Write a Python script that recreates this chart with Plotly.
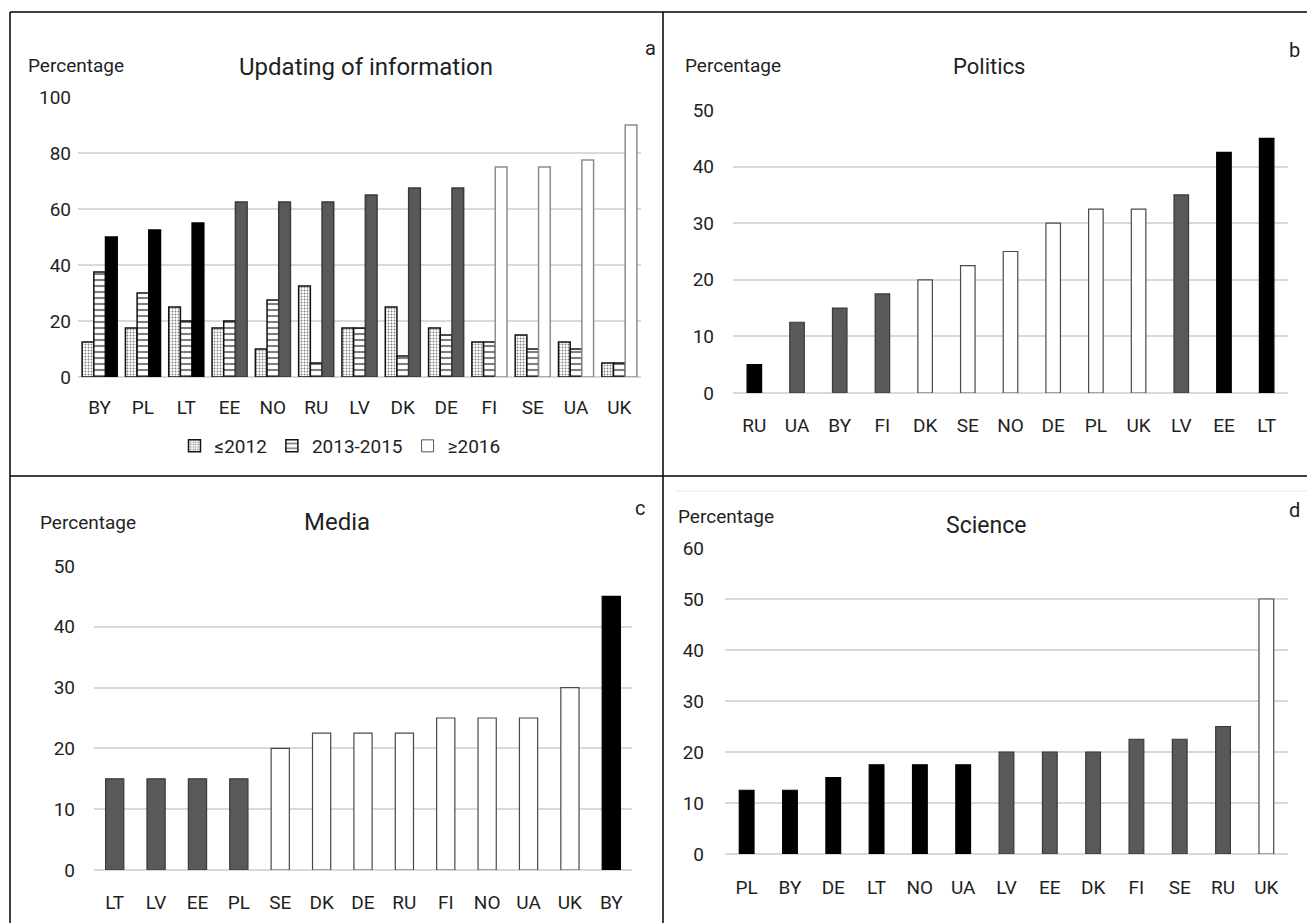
import plotly.graph_objects as go

# ---------------- data ----------------
upd_countries = ["BY", "PL", "LT", "EE", "NO", "RU", "LV", "DK", "DE", "FI", "SE", "UA", "UK"]
upd_le2012 = [12.5, 17.5, 25, 17.5, 10, 32.5, 17.5, 25, 17.5, 12.5, 15, 12.5, 5]
upd_2013_2015 = [37.5, 30, 20, 20, 27.5, 5, 17.5, 7.5, 15, 12.5, 10, 10, 5]
upd_ge2016 = [50, 52.5, 55, 62.5, 62.5, 62.5, 65, 67.5, 67.5, 75, 75, 77.5, 90]
upd_cluster = [1, 1, 1, 2, 2, 2, 2, 2, 2, 3, 3, 3, 3]

pol_countries = ["RU", "UA", "BY", "FI", "DK", "SE", "NO", "DE", "PL", "UK", "LV", "EE", "LT"]
pol_values = [5, 12.5, 15, 17.5, 20, 22.5, 25, 30, 32.5, 32.5, 35, 42.5, 45]
pol_cluster = [1, 2, 2, 2, 3, 3, 3, 3, 3, 3, 2, 1, 1]

med_countries = ["LT", "LV", "EE", "PL", "SE", "DK", "DE", "RU", "FI", "NO", "UA", "UK", "BY"]
med_values = [15, 15, 15, 15, 20, 22.5, 22.5, 22.5, 25, 25, 25, 30, 45]
med_cluster = [2, 2, 2, 2, 3, 3, 3, 3, 3, 3, 3, 3, 1]

sci_countries = ["PL", "BY", "DE", "LT", "NO", "UA", "LV", "EE", "DK", "FI", "SE", "RU", "UK"]
sci_values = [12.5, 12.5, 15, 17.5, 17.5, 17.5, 20, 20, 20, 22.5, 22.5, 25, 50]
sci_cluster = [1, 1, 1, 1, 1, 1, 2, 2, 2, 2, 2, 2, 3]

legend_names = ["≤2012", "2013-2015", "≥2016"]
y_label = "Percentage"
panel_titles = ["Updating of information", "Politics", "Media", "Science"]
panel_letters = ["a", "b", "c", "d"]

# ---------------- style ----------------
W, H = 1307, 923
FONT = "Roboto, 'Liberation Sans', sans-serif"
TXT = "#1f1f1f"
GRID = "#d9d9d9"
FILL = {1: "#000000", 2: "#595959", 3: "#ffffff"}
EDGE = {1: "#000000", 2: "#3a3a3a", 3: "#4a4a4a"}
TICK_SIZE = 19


def px(x):
    return x / W


def py(y):
    return 1 - y / H


fig = go.Figure()

# Panel a: grouped bars
fig.add_trace(go.Bar(
    x=upd_countries, y=upd_le2012, name=legend_names[0], xaxis="x", yaxis="y",
    width=0.27, offset=-0.405,
    marker=dict(color="#ffffff", line=dict(color="#111111", width=1.5),
                pattern=dict(shape=".", fgcolor="#000000", bgcolor="#ffffff", size=3, solidity=0.3)),
))
fig.add_trace(go.Bar(
    x=upd_countries, y=upd_2013_2015, name=legend_names[1], xaxis="x", yaxis="y",
    width=0.27, offset=-0.135,
    marker=dict(color="#ffffff", line=dict(color="#111111", width=1.5),
                pattern=dict(shape="-", fgcolor="#000000", bgcolor="#ffffff", size=6, solidity=0.35)),
))
fig.add_trace(go.Bar(
    x=upd_countries, y=upd_ge2016, name=legend_names[2], xaxis="x", yaxis="y",
    width=0.27, offset=0.135, showlegend=False,
    marker=dict(color=[FILL[c] for c in upd_cluster],
                line=dict(color=["#000000" if c == 1 else ("#3a3a3a" if c == 2 else "#8c8c8c") for c in upd_cluster], width=1.5)),
))
# legend entry for >=2016 (white box) on a hidden axis
fig.add_trace(go.Bar(
    x=[upd_countries[0]], y=[None], name=legend_names[2], xaxis="x5", yaxis="y5",
    marker=dict(color="#ffffff", line=dict(color="#555555", width=1)),
))

for vals, cats, clus, xa, ya, w in [
    (pol_values, pol_countries, pol_cluster, "x2", "y2", 0.34),
    (med_values, med_countries, med_cluster, "x3", "y3", 0.44),
    (sci_values, sci_countries, sci_cluster, "x4", "y4", 0.34),
]:
    fig.add_trace(go.Bar(
        x=cats, y=vals, xaxis=xa, yaxis=ya, showlegend=False,
        width=w, offset=-w / 2,
        marker=dict(color=[FILL[c] for c in clus],
                    line=dict(color=[EDGE[c] for c in clus], width=1.2)),
    ))

# axes geometry (pixel coordinates of plot areas)
areas = {
    "": dict(x0=78, x1=641, y0=377, y1=97, ymax=100, dtick=20, ystand=6, xstand=17),
    "2": dict(x0=733, x1=1288, y0=393, y1=110, ymax=50, dtick=10, ystand=18, xstand=19),
    "3": dict(x0=94, x1=632, y0=870, y1=566, ymax=50, dtick=10, ystand=18, xstand=19),
    "4": dict(x0=725, x1=1288, y0=854, y1=548, ymax=60, dtick=10, ystand=20, xstand=20),
}
layout_axes = {}
for k, a in areas.items():
    layout_axes["xaxis" + k] = dict(
        domain=[px(a["x0"]), px(a["x1"])], anchor="y" + k, type="category",
        showgrid=False, showline=False, zeroline=False, ticks="", automargin=False,
        tickfont=dict(family=FONT, size=TICK_SIZE, color=TXT), ticklabelstandoff=a["xstand"], fixedrange=True,
    )
    layout_axes["yaxis" + k] = dict(
        domain=[py(a["y0"]), py(a["y1"])], anchor="x" + k, automargin=False,
        range=[0, a["ymax"]], dtick=a["dtick"], tick0=0,
        showgrid=True, gridcolor=GRID, gridwidth=2,
        zeroline=True, zerolinecolor=GRID, zerolinewidth=2,
        showline=False, ticks="", ticklabelstandoff=a["ystand"],
        tickfont=dict(family=FONT, size=TICK_SIZE, color=TXT), fixedrange=True,
    )
layout_axes["xaxis5"] = dict(domain=[0, 0.001], anchor="y5", visible=False, automargin=False)
layout_axes["yaxis5"] = dict(domain=[0, 0.001], anchor="x5", visible=False, automargin=False)

annotations = []
ann_pos = [
    # (percentage_left_x, percentage_y, title_x, title_y, title_size, letter_x, letter_y)
    (26, 65, 366, 67, 24, 650, 48),
    (683, 65, 989, 66, 22, 1294, 50),
    (38, 522, 337, 522, 24, 640, 508),
    (676, 516, 986, 525, 23, 1294, 510),
]
for i, (plx, ply, tx, ty, ts, lx, ly) in enumerate(ann_pos):
    annotations.append(dict(x=px(plx), y=py(ply), xref="paper", yref="paper", text=y_label,
                            showarrow=False, xanchor="left", yanchor="middle",
                            font=dict(family=FONT, size=19, color=TXT)))
    annotations.append(dict(x=px(tx), y=py(ty), xref="paper", yref="paper", text=panel_titles[i],
                            showarrow=False, xanchor="center", yanchor="middle",
                            font=dict(family=FONT, size=ts, color=TXT)))
    annotations.append(dict(x=px(lx), y=py(ly), xref="paper", yref="paper", text=panel_letters[i],
                            showarrow=False, xanchor="center", yanchor="middle",
                            font=dict(family=FONT, size=20, color=TXT)))

shapes = []
line_style = dict(color="#000000", width=1.5)
for (x0, y0, x1, y1) in [(10, 12, 10, H), (10, 12, W, 12), (663, 12, 663, H), (10, 476, W, 476)]:
    shapes.append(dict(type="line", xref="paper", yref="paper",
                       x0=px(x0), y0=py(y0), x1=px(x1), y1=py(y1), line=line_style))
shapes.append(dict(type="line", xref="paper", yref="paper",
                   x0=px(675), y0=py(491), x1=px(W), y1=py(491), line=dict(color="#f0f0f0", width=1.5)))

fig.update_layout(
    width=W, height=H, margin=dict(l=0, r=0, t=0, b=0, autoexpand=False),
    paper_bgcolor="#ffffff", plot_bgcolor="rgba(0,0,0,0)",
    barmode="overlay", showlegend=True, hovermode=False,
    legend=dict(orientation="h", x=px(340), y=py(446), xanchor="center", yanchor="middle",
                font=dict(family=FONT, size=19, color=TXT), itemwidth=30,
                bgcolor="rgba(0,0,0,0)", traceorder="normal"),
    annotations=annotations, shapes=shapes,
    **layout_axes,
)

fig.write_html(
    "out.html",
    config={"displayModeBar": False, "staticPlot": True},
    post_script="document.body.style.margin='0';document.body.style.padding='0';document.body.style.overflow='hidden';",
)
